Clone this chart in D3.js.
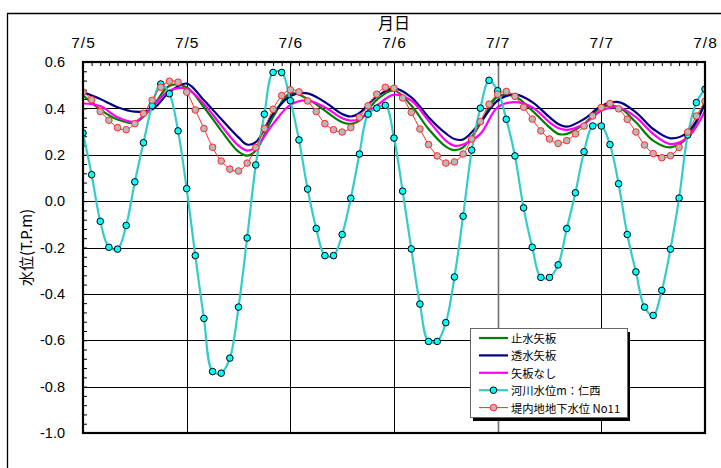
<!DOCTYPE html>
<html>
<head>
<meta charset="utf-8">
<script src="https://cdn.jsdelivr.net/npm/d3@7"></script>
<style>
body { margin: 0; background: #fff; }
svg { display: block; }
text { font-family: "Liberation Sans", Arial, sans-serif; fill: #000; }
.jp { font-family: "Noto Sans CJK JP", "Liberation Sans", sans-serif; }
</style>
</head>
<body>
<svg id="chart" width="721" height="468"></svg>
<script>
// hours counted from 7/5 0:00
var tickHours  = [0, 12, 24, 36, 48, 60, 72]
var tickLabels = ["7/5", "7/5", "7/6", "7/6", "7/7", "7/7", "7/8"]
var yTicks = [-1.0, -0.8, -0.6, -0.4, -0.2, 0.0, 0.2, 0.4, 0.6]

// 河川水位m：仁西 (hourly, h0..h72)
var riverLevel = [
    0.294, 0.114, -0.087, -0.199, -0.207, -0.105, 0.083, 0.252, 0.412, 0.505, 0.463, 0.303, 0.054,
    -0.235, -0.506, -0.735, -0.742, -0.677, -0.457, -0.159, 0.156, 0.375, 0.555, 0.555, 0.433,
    0.264, 0.052, -0.118, -0.235, -0.235, -0.144, 0.012, 0.203, 0.375, 0.401, 0.413, 0.272,
    0.043, -0.206, -0.444, -0.605, -0.605, -0.524, -0.327, -0.065, 0.220, 0.401, 0.521, 0.476,
    0.353, 0.195, -0.029, -0.199, -0.329, -0.329, -0.275, -0.118, 0.036, 0.213, 0.324, 0.324,
    0.244, 0.075, -0.144, -0.305, -0.457, -0.493, -0.385, -0.207, 0.013, 0.285, 0.425, 0.483
]

// 堤内地地下水位 No11 (hourly, h0..h72)
var groundLevel = [
    0.470, 0.437, 0.387, 0.349, 0.317, 0.308, 0.334, 0.378, 0.435, 0.491, 0.517, 0.513, 0.470,
    0.393, 0.313, 0.232, 0.173, 0.138, 0.130, 0.164, 0.231, 0.313, 0.396, 0.455, 0.480,
    0.471, 0.432, 0.386, 0.334, 0.308, 0.298, 0.317, 0.362, 0.411, 0.461, 0.491, 0.487,
    0.445, 0.383, 0.311, 0.244, 0.195, 0.164, 0.169, 0.203, 0.268, 0.343, 0.418, 0.461,
    0.473, 0.452, 0.405, 0.354, 0.303, 0.268, 0.249, 0.261, 0.290, 0.324, 0.367, 0.404,
    0.421, 0.398, 0.353, 0.298, 0.242, 0.205, 0.187, 0.196, 0.232, 0.298, 0.367, 0.431
]

// model results, read at these hours
var modelHours = [0, 2, 4, 6, 8, 10, 12, 14, 16, 18, 19, 20, 22, 24, 26, 28, 30, 31, 32, 34, 36,
                  38, 40, 42, 43, 44, 46, 48, 50, 52, 54, 55, 56, 58, 60, 62, 64, 66, 68, 70, 72]
// 止水矢板
var cutoffWall = [0.456, 0.395, 0.352, 0.338, 0.405, 0.497, 0.491, 0.405, 0.304, 0.213, 0.196, 0.218, 0.362, 0.465, 0.441, 0.390, 0.340, 0.333, 0.347, 0.437, 0.477,
                  0.412, 0.311, 0.235, 0.220, 0.232, 0.333, 0.451, 0.451, 0.390, 0.318, 0.290, 0.290, 0.333, 0.405, 0.405, 0.340, 0.261, 0.232, 0.275, 0.434]
// 透水矢板
var permeableWall = [0.470, 0.440, 0.405, 0.386, 0.395, 0.470, 0.507, 0.435, 0.354, 0.275, 0.244, 0.254, 0.376, 0.453, 0.465, 0.427, 0.376, 0.365, 0.380, 0.451, 0.486,
                     0.448, 0.362, 0.292, 0.268, 0.266, 0.340, 0.434, 0.460, 0.427, 0.362, 0.333, 0.321, 0.354, 0.410, 0.427, 0.383, 0.311, 0.271, 0.297, 0.419]
// 矢板なし
var noWall = [0.421, 0.410, 0.362, 0.343, 0.405, 0.477, 0.484, 0.419, 0.326, 0.239, 0.218, 0.232, 0.333, 0.415, 0.434, 0.405, 0.357, 0.347, 0.354, 0.412, 0.459,
              0.434, 0.347, 0.261, 0.239, 0.244, 0.290, 0.405, 0.427, 0.405, 0.340, 0.315, 0.307, 0.333, 0.390, 0.405, 0.362, 0.290, 0.246, 0.275, 0.390]

var hourly = d3.range(0, 73)

var series = [
    {name: "止水矢板",  hours: modelHours, values: cutoffWall,    color: "#008000", width: 2.2},
    {name: "透水矢板",  hours: modelHours, values: permeableWall, color: "#000080", width: 2.2},
    {name: "矢板なし",  hours: modelHours, values: noWall,        color: "#ff00ff", width: 2.2},
    {name: "河川水位m：仁西", hours: hourly, values: riverLevel, color: "#33cccc", width: 2.2,
        marker: {fill: "#00ffff", stroke: "#000"}},
    {name: "堤内地地下水位 No11", hours: hourly, values: groundLevel, color: "#ff2a2a", width: 1,
        marker: {fill: "#b8b8b8", stroke: "#ff2a2a"}}
]

var svg = d3.select("#chart")
var plotL = 83, plotR = 705, plotT = 62, plotB = 433

var x = d3.scaleLinear().domain([0, 72]).range([plotL, plotR])
var y = d3.scaleLinear().domain([-1.0, 0.6]).range([plotB, plotT])

// outer frame
svg.append("path")
    .attr("d", "M7.5,480 V13.5 H730")
    .attr("fill", "none")
    .attr("stroke", "#000")
    .attr("stroke-width", 1.3)

// grid
svg.append("g").selectAll("line").data(yTicks).enter()
    .append("line")
    .attr("x1", plotL).attr("x2", plotR)
    .attr("y1", function(d){ return Math.round(y(d)) + 0.5 })
    .attr("y2", function(d){ return Math.round(y(d)) + 0.5 })
    .attr("stroke", "#000").attr("stroke-width", 1)

svg.append("g").selectAll("line").data(tickHours).enter()
    .append("line")
    .attr("x1", function(d){ return Math.round(x(d)) + 0.5 })
    .attr("x2", function(d){ return Math.round(x(d)) + 0.5 })
    .attr("y1", plotT).attr("y2", plotB)
    .attr("stroke", function(d){ return d == 48 ? "#707070" : "#000" })
    .attr("stroke-width", function(d){ return d == 48 ? 1.6 : 1 })

// minor ticks (inside)
var minorY = d3.range(0, 41).map(function(i){ return -1.0 + i * 0.04 })
svg.append("g")
    .attr("transform", "translate(" + plotL + ",0)")
    .call(d3.axisRight(y).tickValues(minorY).tickSize(4).tickFormat(""))
    .call(function(g){ g.select(".domain").remove() })

svg.append("g")
    .attr("transform", "translate(0," + plotT + ")")
    .call(d3.axisBottom(x).tickValues(d3.range(1, 72)).tickSize(4).tickFormat(""))
    .call(function(g){ g.select(".domain").remove() })

// tick labels
svg.append("g")
    .attr("transform", "translate(" + plotL + ",0)")
    .call(d3.axisLeft(y).tickValues(yTicks).tickSize(0).tickPadding(18)
        .tickFormat(function(d){ return d.toFixed(1) }))
    .call(function(g){ g.select(".domain").remove() })
    .selectAll("text")
    .style("font-size", "14.5px")

svg.append("g")
    .attr("transform", "translate(0," + plotT + ")")
    .call(d3.axisTop(x).tickValues(tickHours).tickSize(0).tickPadding(14)
        .tickFormat(function(d, i){ return tickLabels[i] }))
    .call(function(g){ g.select(".domain").remove() })
    .selectAll("text")
    .style("font-size", "15.5px")
    .style("letter-spacing", "1px")

// titles
svg.append("text")
    .attr("class", "jp")
    .attr("x", (plotL + plotR) / 2).attr("y", 29)
    .attr("text-anchor", "middle")
    .style("font-size", "16px")
    .text("月日")

svg.append("text")
    .attr("class", "jp")
    .attr("transform", "translate(25," + (plotT + plotB) / 2 + ") rotate(-90)")
    .attr("text-anchor", "middle")
    .attr("dominant-baseline", "central")
    .style("font-size", "15px")
    .text("水位(T.P.m)")

// series
svg.append("clipPath").attr("id", "plotClip")
    .append("rect").attr("x", plotL).attr("y", plotT)
    .attr("width", plotR - plotL).attr("height", plotB - plotT)

var plot = svg.append("g").attr("clip-path", "url(#plotClip)")

series.forEach(function(s)
{
    var pts = s.hours.map(function(h, i){ return [h, s.values[i]] })
    var line = d3.line()
        .x(function(d){ return x(d[0]) })
        .y(function(d){ return y(d[1]) })
        .curve(d3.curveCatmullRom)

    plot.append("path")
        .datum(pts)
        .attr("d", line)
        .attr("fill", "none")
        .attr("stroke", s.color)
        .attr("stroke-width", s.width)
        .attr("stroke-linejoin", "round")

    if(s.marker)
    {
        plot.append("g").selectAll("circle")
            .data(pts).enter()
            .append("circle")
            .attr("cx", function(d){ return x(d[0]) })
            .attr("cy", function(d){ return y(d[1]) })
            .attr("r", 3.3)
            .attr("fill", s.marker.fill)
            .attr("stroke", s.marker.stroke)
            .attr("stroke-width", 1)
    }
})

// plot border
svg.append("rect")
    .attr("x", plotL).attr("y", plotT)
    .attr("width", plotR - plotL).attr("height", plotB - plotT)
    .attr("fill", "none")
    .attr("stroke", "#000")
    .attr("stroke-width", 2.2)

// legend
var lx = 470, ly = 328, lw = 157, lh = 89
var legend = svg.append("g")
legend.append("rect")
    .attr("x", lx + 3).attr("y", ly + 4)
    .attr("width", lw).attr("height", lh)
    .attr("fill", "#000")
legend.append("rect")
    .attr("x", lx + 0.5).attr("y", ly + 0.5)
    .attr("width", lw).attr("height", lh)
    .attr("fill", "#fff")
    .attr("stroke", "#666")
    .attr("stroke-width", 1)

var rows = legend.selectAll("g.row").data(series).enter()
    .append("g")
    .attr("class", "row")
    .attr("transform", function(d, i){ return "translate(" + lx + "," + (ly + 10 + i * 17.4) + ")" })

rows.append("line")
    .attr("x1", 9).attr("x2", 38)
    .attr("stroke", function(d){ return d.color })
    .attr("stroke-width", function(d){ return d.width })

rows.filter(function(d){ return d.marker })
    .append("circle")
    .attr("cx", 23.5).attr("r", 3.3)
    .attr("fill", function(d){ return d.marker.fill })
    .attr("stroke", function(d){ return d.marker.stroke })

rows.append("text")
    .attr("class", "jp")
    .attr("x", 41)
    .attr("dominant-baseline", "central")
    .style("font-size", "11.3px")
    .text(function(d){ return d.name })
</script>
</body>
</html>
